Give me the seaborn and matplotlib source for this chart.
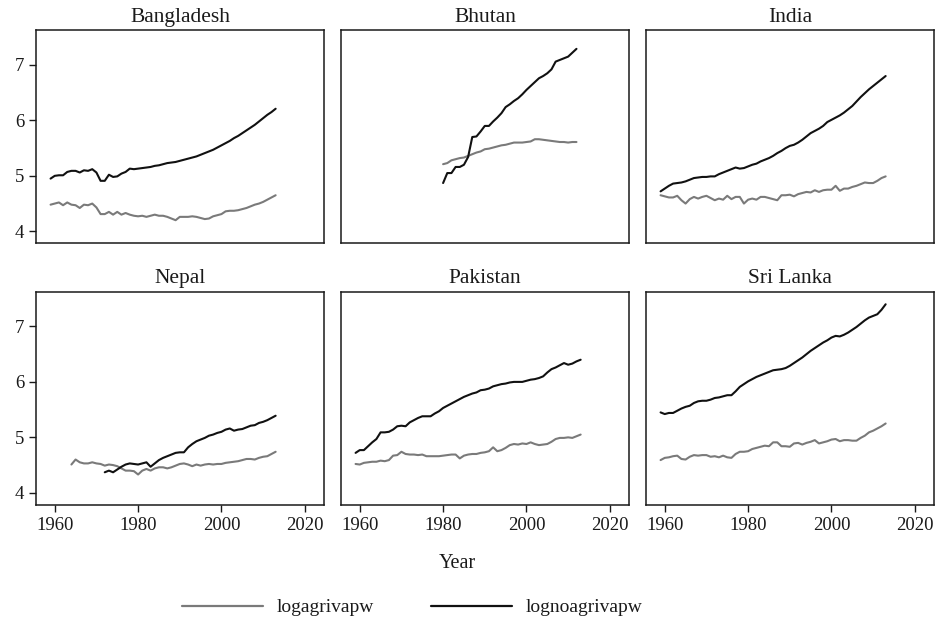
import pandas as pd
import matplotlib.pyplot as plt
import seaborn as sns

# Years covered by each country's series
years_full = list(range(1959, 2014))
years_bhutan = list(range(1980, 2013))
years_nepal_agri = list(range(1964, 2014))
years_nepal_noagri = list(range(1972, 2014))

# log agricultural value added per worker
bgd_agri = [4.48, 4.50, 4.52, 4.47, 4.52, 4.48, 4.47, 4.42, 4.48, 4.47, 4.50, 4.43, 4.31, 4.31,
            4.35, 4.30, 4.35, 4.30, 4.33, 4.30, 4.28, 4.27, 4.28, 4.26, 4.28, 4.30, 4.28, 4.28,
            4.26, 4.23, 4.20, 4.26, 4.26, 4.26, 4.27, 4.26, 4.24, 4.22, 4.23, 4.27, 4.29, 4.31,
            4.36, 4.37, 4.37, 4.38, 4.40, 4.42, 4.45, 4.48, 4.50, 4.53, 4.57, 4.61, 4.65]
btn_agri = [5.21, 5.23, 5.28, 5.30, 5.32, 5.33, 5.36, 5.39, 5.42, 5.44, 5.48, 5.49, 5.51, 5.53,
            5.55, 5.56, 5.58, 5.60, 5.60, 5.60, 5.61, 5.62, 5.66, 5.66, 5.65, 5.64, 5.63, 5.62,
            5.61, 5.61, 5.60, 5.61, 5.61]
ind_agri = [4.65, 4.63, 4.61, 4.61, 4.64, 4.56, 4.50, 4.58, 4.62, 4.59, 4.62, 4.64, 4.60, 4.56,
            4.59, 4.57, 4.64, 4.58, 4.62, 4.62, 4.50, 4.57, 4.59, 4.57, 4.62, 4.62, 4.60, 4.58,
            4.56, 4.65, 4.65, 4.66, 4.63, 4.67, 4.69, 4.71, 4.70, 4.74, 4.71, 4.74, 4.75, 4.75,
            4.82, 4.73, 4.77, 4.77, 4.80, 4.82, 4.85, 4.88, 4.87, 4.87, 4.91, 4.96, 4.99]
npl_agri = [4.51, 4.60, 4.55, 4.53, 4.53, 4.55, 4.53, 4.52, 4.49, 4.51, 4.50, 4.48, 4.44, 4.40,
            4.40, 4.39, 4.33, 4.40, 4.43, 4.40, 4.44, 4.46, 4.46, 4.44, 4.46, 4.49, 4.52, 4.53,
            4.51, 4.48, 4.51, 4.49, 4.51, 4.52, 4.51, 4.52, 4.52, 4.54, 4.55, 4.56, 4.57, 4.59,
            4.61, 4.61, 4.60, 4.63, 4.65, 4.66, 4.70, 4.74]
pak_agri = [4.52, 4.51, 4.54, 4.55, 4.56, 4.56, 4.58, 4.57, 4.59, 4.67, 4.68, 4.74, 4.70, 4.69,
            4.69, 4.68, 4.69, 4.66, 4.66, 4.66, 4.66, 4.67, 4.68, 4.69, 4.69, 4.62, 4.67, 4.69,
            4.70, 4.70, 4.72, 4.73, 4.75, 4.82, 4.75, 4.77, 4.81, 4.86, 4.88, 4.87, 4.89, 4.88,
            4.91, 4.88, 4.86, 4.87, 4.88, 4.92, 4.97, 4.99, 4.99, 5.00, 4.99, 5.02, 5.05]
lka_agri = [4.59, 4.63, 4.64, 4.66, 4.67, 4.61, 4.60, 4.65, 4.68, 4.67, 4.68, 4.68, 4.65, 4.66,
            4.64, 4.67, 4.64, 4.63, 4.70, 4.74, 4.74, 4.75, 4.79, 4.81, 4.83, 4.85, 4.84, 4.91,
            4.91, 4.84, 4.84, 4.83, 4.89, 4.90, 4.87, 4.90, 4.92, 4.95, 4.89, 4.91, 4.93, 4.96,
            4.97, 4.93, 4.95, 4.95, 4.94, 4.94, 4.99, 5.03, 5.09, 5.12, 5.16, 5.20, 5.25]

# log non-agricultural value added per worker
bgd_noagri = [4.95, 5.00, 5.01, 5.01, 5.07, 5.09, 5.09, 5.06, 5.10, 5.09, 5.12, 5.06, 4.91, 4.91,
              5.02, 4.98, 4.99, 5.04, 5.07, 5.13, 5.12, 5.13, 5.14, 5.15, 5.16, 5.18, 5.19, 5.21,
              5.23, 5.24, 5.25, 5.27, 5.29, 5.31, 5.33, 5.35, 5.38, 5.41, 5.44, 5.47, 5.51, 5.55,
              5.59, 5.63, 5.68, 5.72, 5.77, 5.82, 5.87, 5.92, 5.98, 6.04, 6.10, 6.15, 6.21]
btn_noagri = [4.87, 5.05, 5.05, 5.16, 5.16, 5.20, 5.34, 5.70, 5.71, 5.80, 5.90, 5.90, 5.98, 6.05,
              6.13, 6.24, 6.29, 6.35, 6.40, 6.47, 6.55, 6.62, 6.69, 6.76, 6.80, 6.85, 6.92, 7.06,
              7.09, 7.12, 7.15, 7.22, 7.29]
ind_noagri = [4.72, 4.77, 4.82, 4.86, 4.87, 4.88, 4.90, 4.93, 4.96, 4.97, 4.98, 4.98, 4.99, 4.99,
              5.03, 5.06, 5.09, 5.12, 5.15, 5.13, 5.14, 5.17, 5.20, 5.22, 5.26, 5.29, 5.32, 5.36,
              5.41, 5.45, 5.50, 5.54, 5.56, 5.60, 5.65, 5.71, 5.77, 5.81, 5.85, 5.90, 5.97, 6.01,
              6.05, 6.09, 6.14, 6.20, 6.26, 6.34, 6.42, 6.49, 6.56, 6.62, 6.68, 6.74, 6.80]
npl_noagri = [4.37, 4.40, 4.37, 4.42, 4.47, 4.51, 4.53, 4.52, 4.51, 4.53, 4.55, 4.47, 4.53, 4.59,
              4.63, 4.66, 4.69, 4.72, 4.73, 4.73, 4.82, 4.88, 4.93, 4.96, 4.99, 5.03, 5.05, 5.08,
              5.10, 5.14, 5.16, 5.12, 5.14, 5.15, 5.18, 5.21, 5.22, 5.26, 5.28, 5.31, 5.35, 5.39]
pak_noagri = [4.72, 4.77, 4.77, 4.84, 4.91, 4.97, 5.09, 5.09, 5.10, 5.14, 5.20, 5.21, 5.20, 5.27,
              5.31, 5.35, 5.38, 5.38, 5.38, 5.43, 5.47, 5.53, 5.57, 5.61, 5.65, 5.69, 5.73, 5.76,
              5.79, 5.81, 5.85, 5.86, 5.88, 5.92, 5.94, 5.96, 5.97, 5.99, 6.00, 6.00, 6.00, 6.02,
              6.04, 6.05, 6.07, 6.10, 6.17, 6.23, 6.26, 6.30, 6.34, 6.31, 6.33, 6.37, 6.40]
lka_noagri = [5.45, 5.42, 5.44, 5.44, 5.48, 5.52, 5.55, 5.57, 5.62, 5.65, 5.66, 5.66, 5.68, 5.71,
              5.72, 5.74, 5.76, 5.76, 5.83, 5.91, 5.96, 6.01, 6.05, 6.09, 6.12, 6.15, 6.18, 6.21,
              6.22, 6.23, 6.25, 6.29, 6.34, 6.39, 6.44, 6.50, 6.56, 6.61, 6.66, 6.71, 6.75, 6.80,
              6.83, 6.82, 6.85, 6.89, 6.94, 6.99, 7.05, 7.11, 7.16, 7.19, 7.22, 7.30, 7.40]

countries = ["Bangladesh", "Bhutan", "India", "Nepal", "Pakistan", "Sri Lanka"]
series = ["logagrivapw", "lognoagrivapw"]

# build long table
parts = [
    ("Bangladesh", "logagrivapw", years_full, bgd_agri),
    ("Bangladesh", "lognoagrivapw", years_full, bgd_noagri),
    ("Bhutan", "logagrivapw", years_bhutan, btn_agri),
    ("Bhutan", "lognoagrivapw", years_bhutan, btn_noagri),
    ("India", "logagrivapw", years_full, ind_agri),
    ("India", "lognoagrivapw", years_full, ind_noagri),
    ("Nepal", "logagrivapw", years_nepal_agri, npl_agri),
    ("Nepal", "lognoagrivapw", years_nepal_noagri, npl_noagri),
    ("Pakistan", "logagrivapw", years_full, pak_agri),
    ("Pakistan", "lognoagrivapw", years_full, pak_noagri),
    ("Sri Lanka", "logagrivapw", years_full, lka_agri),
    ("Sri Lanka", "lognoagrivapw", years_full, lka_noagri),
]
frames = []
for country, var, yrs, vals in parts:
    frames.append(pd.DataFrame({"country": country, "variable": var, "year": yrs, "value": vals}))
df = pd.concat(frames, ignore_index=True)

sns.set_theme(style="ticks")
plt.rcParams["font.family"] = ["Liberation Serif", "DejaVu Serif"]
plt.rcParams["axes.edgecolor"] = "#1a1a1a"
plt.rcParams["axes.linewidth"] = 1.1

palette = {"logagrivapw": "#7a7a7a", "lognoagrivapw": "#111111"}

g = sns.FacetGrid(df, col="country", col_order=countries, col_wrap=3,
                  sharex=True, sharey=True, height=2.5, aspect=1.3, despine=False)
g.map_dataframe(sns.lineplot, x="year", y="value", hue="variable",
                hue_order=series, palette=palette, linewidth=1.5)
g.figure.set_size_inches(9.37, 6.25)
g.set_titles("{col_name}", size=15.5, color="#1a1a1a")
g.set(xlim=(1955.5, 2024.6), ylim=(3.78, 7.63),
      xticks=[1960, 1980, 2000, 2020], yticks=[4, 5, 6, 7])
g.set_axis_labels("", "")

for i, ax in enumerate(g.axes.flat):
    ax.tick_params(labelsize=13.5, length=5, width=1, color="#1a1a1a", labelcolor="#1a1a1a")
    if i % 3 != 0:
        ax.tick_params(left=False)
    if i < 3:
        ax.tick_params(bottom=False)
    for s in ax.spines.values():
        s.set_visible(True)
        s.set_color("#1a1a1a")

g.figure.subplots_adjust(left=0.0384, right=0.9968, top=0.952, bottom=0.192,
                         wspace=0.059, hspace=0.225)

g.figure.text(0.488, 0.099, "Year", ha="center", va="center", fontsize=14.5, color="#1a1a1a")

handles = [plt.Line2D([], [], color=palette[s], linewidth=1.6) for s in series]
g.figure.legend(handles, series, loc="center", bbox_to_anchor=(0.44, 0.028), ncol=2,
                frameon=False, fontsize=14, handlelength=4.2, columnspacing=2.9,
                handletextpad=0.7, labelcolor="#1a1a1a")

g.figure.savefig("out.png", dpi=100)
